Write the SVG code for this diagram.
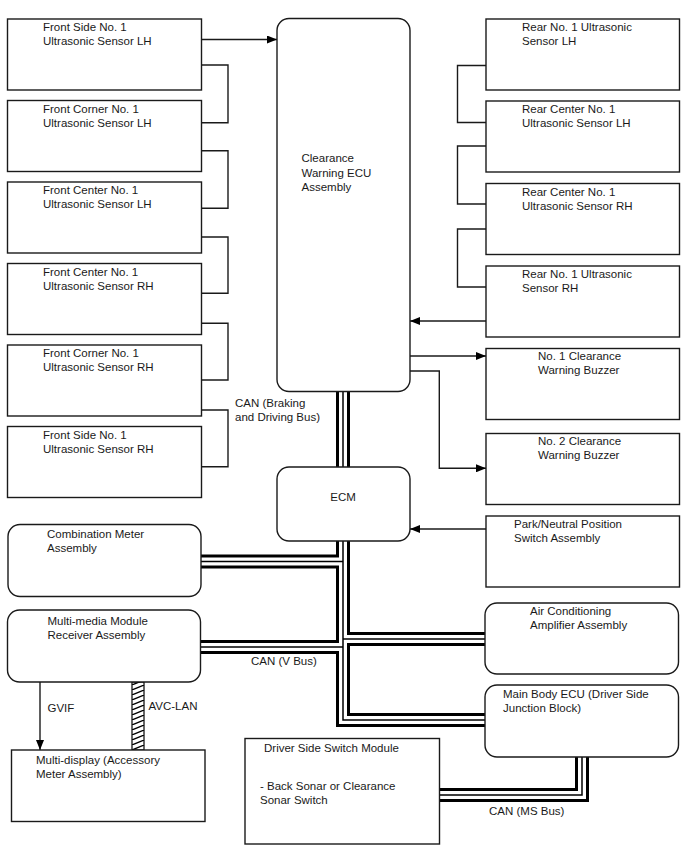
<svg xmlns="http://www.w3.org/2000/svg" width="688" height="852" viewBox="0 0 688 852">
<style>
text{font-family:"Liberation Sans",Arial,sans-serif;font-size:11.5px;fill:#1a1a1a}
.box{fill:#fff;stroke:#1a1a1a;stroke-width:1.4}
.w{fill:none;stroke:#1a1a1a;stroke-width:1.4}
.arr{fill:none;stroke:#1a1a1a;stroke-width:1.4;marker-end:url(#ah)}
.b1{fill:none;stroke:#000;stroke-width:14;stroke-linejoin:miter;stroke-linecap:butt}
.b2{fill:none;stroke:#fff;stroke-width:8;stroke-linejoin:miter;stroke-linecap:butt}
.b3{fill:none;stroke:#000;stroke-width:1.5;stroke-linejoin:miter;stroke-linecap:butt}
</style>
<defs>
<marker id="ah" viewBox="0 0 10 8" refX="10" refY="4" markerWidth="10" markerHeight="8" markerUnits="userSpaceOnUse" orient="auto">
<path d="M0,0 L10,4 L0,8 Z" fill="#000"/>
</marker>
<pattern id="hatch" patternUnits="userSpaceOnUse" x="132" y="0" width="12" height="5">
<path d="M0,5 L12,0" stroke="#000" stroke-width="1.3"/>
</pattern>
</defs>
<rect width="688" height="852" fill="#fff"/>

<g id="connectors">
<!-- left sensor chain -->
<path class="arr" d="M201,39.5 H277"/>
<path class="w" d="M201,65 H228 V122.7 H201"/>
<path class="w" d="M201,150.7 H228 V208.3 H201"/>
<path class="w" d="M201,237 H228 V293.3 H201"/>
<path class="w" d="M201,323.3 H228 V380 H201"/>
<path class="w" d="M201,410 H228 V466.7 H201"/>
<!-- right sensor chain -->
<path class="w" d="M486,65.5 H457.5 V122.5 H486"/>
<path class="w" d="M486,146 H457.5 V204 H486"/>
<path class="w" d="M486,229 H457.5 V287 H486"/>
<path class="arr" d="M486,321 H410"/>
<!-- buzzers -->
<path class="arr" d="M410,356 H486"/>
<path class="arr" d="M410,371 H439.3 V468.3 H486"/>
<!-- park/neutral -->
<path class="arr" d="M486,529 H410"/>
<!-- GVIF -->
<path class="arr" d="M40,682 V750"/>
<!-- AVC-LAN -->
<rect x="132" y="682" width="12" height="68" fill="url(#hatch)" stroke="#000" stroke-width="1.2"/>
<!-- CAN buses -->
<g id="can-bus">
<path class="b1" d="M343,391 V467"/>
<path class="b1" d="M343,541 V720 H485"/>
<path class="b1" d="M201,561.5 H343"/>
<path class="b1" d="M201,647 H343"/>
<path class="b1" d="M343,639 H485"/>
<path class="b1" d="M582,757 V795 H440"/>
<path class="b2" d="M343,391 V467"/>
<path class="b2" d="M343,541 V720 H485"/>
<path class="b2" d="M201,561.5 H343"/>
<path class="b2" d="M201,647 H343"/>
<path class="b2" d="M343,639 H485"/>
<path class="b2" d="M582,757 V795 H440"/>
<path class="b3" d="M343,391 V467"/>
<path class="b3" d="M343,541 V720 H485"/>
<path class="b3" d="M201,561.5 H343"/>
<path class="b3" d="M201,647 H343"/>
<path class="b3" d="M343,639 H485"/>
<path class="b3" d="M582,757 V795 H440"/>
</g>
<text x="235" y="406.5">CAN (Braking</text>
<text x="235" y="420.5">and Driving Bus)</text>
<text x="251" y="665">CAN (V Bus)</text>
<text x="489" y="815">CAN (MS Bus)</text>
<text x="47.5" y="712">GVIF</text>
<text x="148.5" y="710">AVC-LAN</text>
</g>

<g id="front-side-lh"><rect class="box" x="7.5" y="19" width="194" height="71"/><text x="43" y="31">Front Side No. 1</text><text x="43" y="45">Ultrasonic Sensor LH</text></g>
<g id="front-corner-lh"><rect class="box" x="7.5" y="100.5" width="194" height="71"/><text x="43" y="112.5">Front Corner No. 1</text><text x="43" y="126.5">Ultrasonic Sensor LH</text></g>
<g id="front-center-lh"><rect class="box" x="7.5" y="182" width="194" height="71"/><text x="43" y="194">Front Center No. 1</text><text x="43" y="208">Ultrasonic Sensor LH</text></g>
<g id="front-center-rh"><rect class="box" x="7.5" y="263.5" width="194" height="71"/><text x="43" y="275.5">Front Center No. 1</text><text x="43" y="289.5">Ultrasonic Sensor RH</text></g>
<g id="front-corner-rh"><rect class="box" x="7.5" y="345" width="194" height="71"/><text x="43" y="357">Front Corner No. 1</text><text x="43" y="371">Ultrasonic Sensor RH</text></g>
<g id="front-side-rh"><rect class="box" x="7.5" y="426.5" width="194" height="71"/><text x="43" y="438.5">Front Side No. 1</text><text x="43" y="452.5">Ultrasonic Sensor RH</text></g>

<g id="clearance-ecu"><rect class="box" x="277" y="18.5" width="133" height="373" rx="12"/><text x="301.5" y="162">Clearance</text><text x="301.5" y="176.5">Warning ECU</text><text x="301.5" y="191">Assembly</text></g>

<g id="rear-lh"><rect class="box" x="486" y="19" width="193.5" height="71"/><text x="522" y="31">Rear No. 1 Ultrasonic</text><text x="522" y="45">Sensor LH</text></g>
<g id="rear-center-lh"><rect class="box" x="486" y="101" width="193.5" height="71"/><text x="522" y="113">Rear Center No. 1</text><text x="522" y="127">Ultrasonic Sensor LH</text></g>
<g id="rear-center-rh"><rect class="box" x="486" y="183.5" width="193.5" height="71"/><text x="522" y="195.5">Rear Center No. 1</text><text x="522" y="209.5">Ultrasonic Sensor RH</text></g>
<g id="rear-rh"><rect class="box" x="486" y="266" width="193.5" height="71"/><text x="522" y="278">Rear No. 1 Ultrasonic</text><text x="522" y="292">Sensor RH</text></g>

<g id="buzzer1"><rect class="box" x="486" y="348.5" width="193.5" height="71"/><text x="538" y="360">No. 1 Clearance</text><text x="538" y="374">Warning Buzzer</text></g>
<g id="buzzer2"><rect class="box" x="486" y="433.5" width="193.5" height="71"/><text x="538" y="445">No. 2 Clearance</text><text x="538" y="459">Warning Buzzer</text></g>

<g id="ecm"><rect class="box" x="277" y="467" width="133" height="74" rx="12"/><text x="343" y="501" text-anchor="middle">ECM</text></g>

<g id="park-neutral"><rect class="box" x="486" y="516" width="193.5" height="71"/><text x="514" y="528">Park/Neutral Position</text><text x="514" y="542">Switch Assembly</text></g>

<g id="combination-meter"><rect class="box" x="8" y="524.5" width="193" height="72" rx="12"/><text x="47" y="538">Combination Meter</text><text x="47" y="552">Assembly</text></g>

<g id="multimedia"><rect class="box" x="7.5" y="610" width="193" height="72" rx="12"/><text x="47.5" y="625">Multi-media Module</text><text x="47.5" y="639">Receiver Assembly</text></g>

<g id="ac-amp"><rect class="box" x="485" y="603" width="193.5" height="71" rx="12"/><text x="530" y="615">Air Conditioning</text><text x="530" y="629">Amplifier Assembly</text></g>

<g id="main-body-ecu"><rect class="box" x="485" y="685" width="193.5" height="72" rx="12"/><text x="503" y="697.5">Main Body ECU (Driver Side</text><text x="503" y="711.5">Junction Block)</text></g>

<g id="multi-display"><rect class="box" x="11.5" y="750" width="193.5" height="71.5"/><text x="36" y="764">Multi-display (Accessory</text><text x="36" y="778">Meter Assembly)</text></g>

<g id="driver-switch"><rect class="box" x="245" y="738.5" width="194.5" height="105.5"/><text x="264" y="752">Driver Side Switch Module</text><text x="260" y="790">- Back Sonar or Clearance</text><text x="260" y="803.5">Sonar Switch</text></g>
</svg>
